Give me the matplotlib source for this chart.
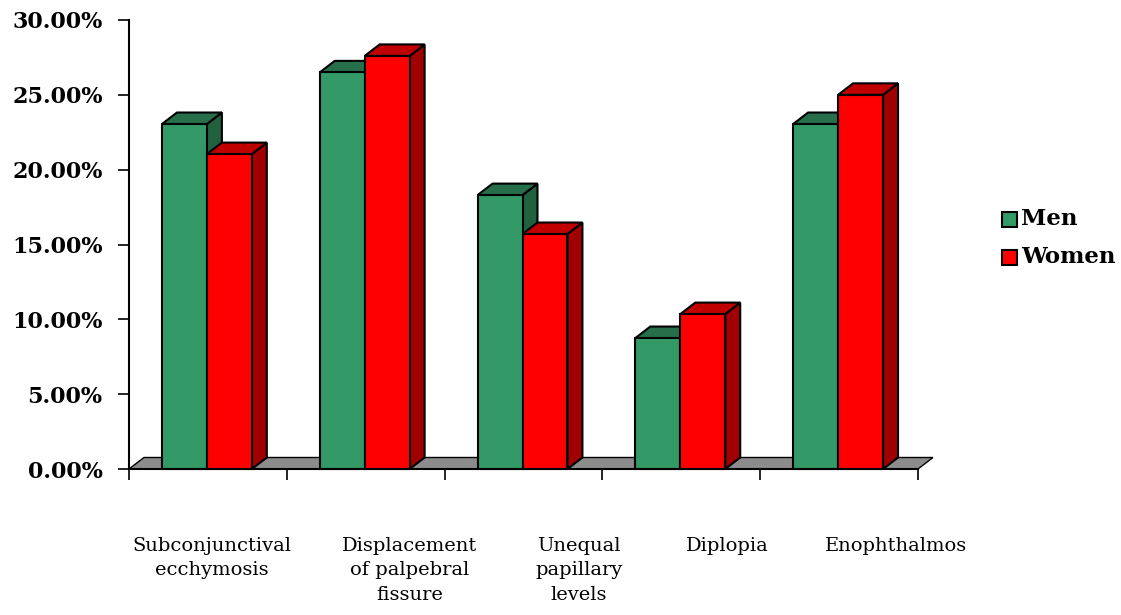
import matplotlib.pyplot as plt
from matplotlib.patches import Polygon

# Datos del grafico
categorias = ['Subconjunctival\necchymosis', 'Displacement\nof palpebral\nfissure',
              'Unequal\npapillary\nlevels', 'Diplopia', 'Enophthalmos']
hombres = [23.05, 26.5, 18.3, 8.75, 23.05]
mujeres = [21.04, 27.6, 15.7, 10.35, 25.0]
series = ['Men', 'Women']
ticks_y = [0, 5, 10, 15, 20, 25, 30]

# colores: frente, arriba, lado
col_h = ('#339966', '#276f4b', '#216140')
col_m = ('#ff0000', '#c00000', '#a00000')

fig = plt.figure(figsize=(11.21, 6.15), dpi=100)
ax = fig.add_axes([129/1121, 1-469/615, (918-129)/1121, 449/615])
ax.set_xlim(0, 5)
ax.set_ylim(0, 30)

dx = 15/158.0          # profundidad en x (unidades de categoria)
dy = 11.5*30/449.0     # profundidad en y (porcentaje)


def caja(x0, x1, h, cols, z):
	frente = Polygon([(x0, 0), (x1, 0), (x1, h), (x0, h)], closed=True,
	                 fc=cols[0], ec='black', lw=1.5, clip_on=False, zorder=z)
	arriba = Polygon([(x0, h), (x1, h), (x1+dx, h+dy), (x0+dx, h+dy)], closed=True,
	                 fc=cols[1], ec='black', lw=1.5, clip_on=False, zorder=z)
	lado = Polygon([(x1, 0), (x1+dx, dy), (x1+dx, h+dy), (x1, h)], closed=True,
	               fc=cols[2], ec='black', lw=1.5, clip_on=False, zorder=z)
	for p in (lado, arriba, frente):
		ax.add_patch(p)


# piso gris
piso = Polygon([(0, 0), (5, 0), (5+dx, dy), (dx, dy)], closed=True,
               fc='#8c8c8c', ec='black', lw=1, clip_on=False, zorder=1)
ax.add_patch(piso)

a = 33/158.0
w = 45/158.0
for i in range(5):
	caja(i+a, i+a+w, hombres[i], col_h, 2+2*i)
	caja(i+a+w, i+a+2*w, mujeres[i], col_m, 3+2*i)

# ejes
for s in ('top', 'right'):
	ax.spines[s].set_visible(False)
ax.spines['left'].set_linewidth(1.5)
ax.spines['bottom'].set_linewidth(1.5)
ax.spines['bottom'].set_zorder(20)
ax.set_yticks(ticks_y)
ax.set_yticklabels(['%.2f%%' % t for t in ticks_y], fontsize=16, fontweight='bold',
                   family='DejaVu Serif')
ax.set_xticks(range(6))
ax.set_xticklabels([])
ax.tick_params(axis='y', length=8, width=1.2, pad=11)
ax.tick_params(axis='x', length=8, width=1.2)

# etiquetas de categoria
pos_etiquetas = [212, 410, 579, 727, 896]
for px, txt in zip(pos_etiquetas, categorias):
	fig.text(px/1121, 1-537/615, txt, ha='center', va='top', fontsize=14,
	         family='DejaVu Serif', linespacing=1.45)

# leyenda
for j, (nom, c) in enumerate(zip(series, (col_h[0], col_m[0]))):
	yc = 219 + 38*j
	fig.patches.append(plt.Rectangle((1002/1121, 1-(yc+8)/615), 15/1121, 15/615,
	                                 fc=c, ec='black', lw=1.5, transform=fig.transFigure))
	fig.text(1021/1121, 1-yc/615, nom, ha='left', va='center', fontsize=16.5,
	         fontweight='bold', family='DejaVu Serif')

fig.savefig('out.png', dpi=100)
